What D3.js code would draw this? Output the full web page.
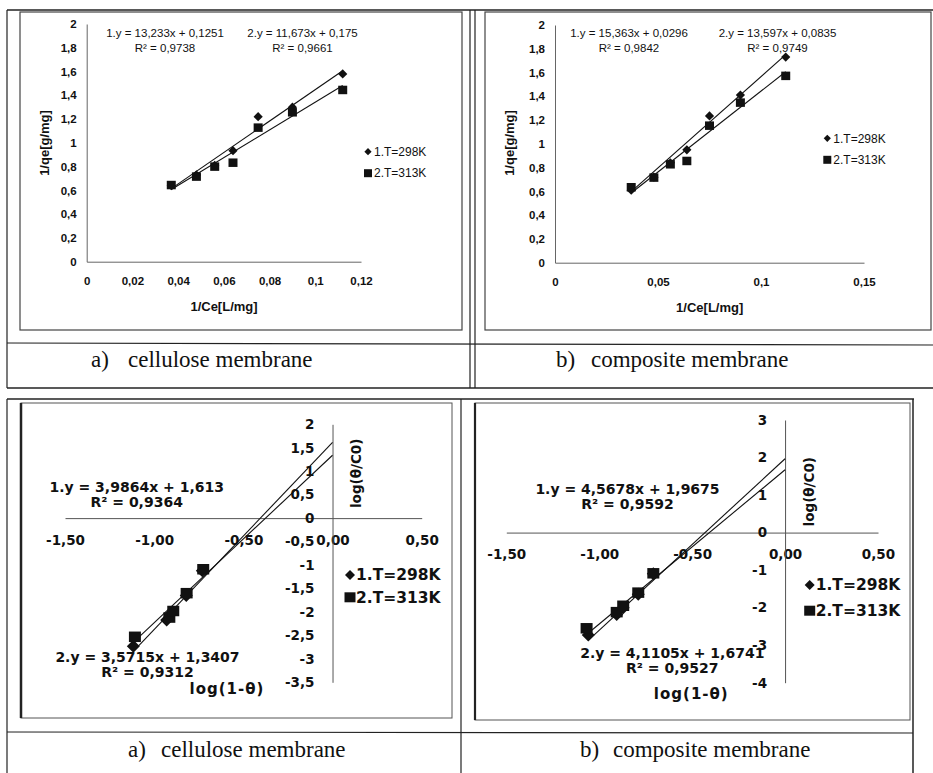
<!DOCTYPE html>
<html>
<head>
<meta charset="utf-8">
<script src="https://cdn.jsdelivr.net/npm/d3@7"></script>
<style>
body{margin:0;background:#fff}
svg text{fill:#111}
</style>
</head>
<body>
<script>
// 1/Ce values shared by both Langmuir plots
var invCe = [0.037, 0.048, 0.056, 0.064, 0.075, 0.090, 0.112]
var cell298 = [0.64, 0.73, 0.81, 0.934, 1.22, 1.30, 1.58]
var cell313 = [0.645, 0.716, 0.80, 0.833, 1.128, 1.257, 1.445]
var comp298 = [0.61, 0.72, 0.84, 0.95, 1.235, 1.41, 1.73]
var comp313 = [0.635, 0.716, 0.828, 0.856, 1.153, 1.347, 1.572]

// log(1-theta) vs log(theta/C0)
var lcell298x = [-1.117, -0.93, -0.90, -0.82, -0.73]
var lcell298y = [-2.73, -2.17, -2.02, -1.65, -1.12]
var lcell313x = [-1.108, -0.915, -0.893, -0.818, -0.725]
var lcell313y = [-2.53, -2.12, -1.98, -1.60, -1.09]
var lcomp298x = [-1.059, -0.906, -0.871, -0.79, -0.709]
var lcomp298y = [-2.73, -2.18, -2.0, -1.64, -1.10]
var lcomp313x = [-1.068, -0.906, -0.871, -0.79, -0.709]
var lcomp313y = [-2.55, -2.12, -1.95, -1.60, -1.085]

// fitted lines [slope, intercept, R2]
var fitCell = [[13.233, 0.1251, "0,9738"], [11.673, 0.175, "0,9661"]]
var fitComp = [[15.363, 0.0296, "0,9842"], [13.597, 0.0835, "0,9749"]]
var fitLCell = [[3.9864, 1.613, "0,9364"], [3.5715, 1.3407, "0,9312"]]
var fitLComp = [[4.5678, 1.9675, "0,9592"], [4.1105, 1.6741, "0,9527"]]

var eqCell = ["1.y = 13,233x + 0,1251", "2.y = 11,673x + 0,175"]
var eqComp = ["1.y = 15,363x + 0,0296", "2.y = 13,597x + 0,0835"]
var eqLCell = ["1.y = 3,9864x + 1,613", "2.y = 3,5715x + 1,3407"]
var eqLComp = ["1.y = 4,5678x + 1,9675", "2.y = 4,1105x + 1,6741"]

var legendNames = ["1.T=298K", "2.T=313K"]
var captions = [["a)", "cellulose membrane"], ["b)", "composite membrane"]]

var yTicksTop = [0, 0.2, 0.4, 0.6, 0.8, 1, 1.2, 1.4, 1.6, 1.8, 2]
var xTicksCell = [0, 0.02, 0.04, 0.06, 0.08, 0.1, 0.12]
var xTicksComp = [0, 0.05, 0.1, 0.15]
var xTicksLog = [-1.5, -1, -0.5, 0, 0.5]
var yTicksLCell = [2, 1.5, 1, 0.5, 0, -0.5, -1, -1.5, -2, -2.5, -3, -3.5]
var yTicksLComp = [3, 2, 1, 0, -1, -2, -3, -4]

var svg = d3.select("body").append("svg").attr("width", 933).attr("height", 773)

function comma(v){ return String(+v.toFixed(3)).replace(".", ",") }
function comma2(v){ return v.toFixed(2).replace(".", ",") }
function diamond(r){ return "M0," + (-r) + "L" + r + ",0L0," + r + "L" + (-r) + ",0Z" }
function square(w, h){ return "M" + (-w/2) + "," + (-h/2) + "h" + w + "v" + h + "h" + (-w) + "Z" }

// ---------- tables / frames ----------
function line(x1, y1, x2, y2, w, col){
    svg.append("line").attr("x1", x1).attr("y1", y1).attr("x2", x2).attr("y2", y2)
      .attr("stroke", col || "#222").attr("stroke-width", w || 1)
}
// top table
line(7, 10, 933, 10, 1.5)
line(7, 10, 7, 388, 1.2)
line(7, 388, 933, 388, 1.5)
line(7, 343, 933, 345, 1.2)
line(470, 10, 470, 388, 1.2)
line(475, 10, 475, 388, 1.2)
svg.append("rect").attr("x", 20).attr("y", 12).attr("width", 442).attr("height", 318)
  .attr("fill", "none").attr("stroke", "#444").attr("stroke-width", 1.2)
svg.append("rect").attr("x", 485).attr("y", 12).attr("width", 446).attr("height", 318)
  .attr("fill", "none").attr("stroke", "#444").attr("stroke-width", 1.2)
// bottom table
line(7, 399, 914, 399, 1.5)
line(7, 399, 7, 773, 1.2)
line(461, 399, 461, 773, 1.2)
line(913, 399, 913, 773, 1.5)
line(7, 732, 913, 733, 1.2)
svg.append("rect").attr("x", 21).attr("y", 403).attr("width", 431).attr("height", 315)
  .attr("fill", "none").attr("stroke", "#555").attr("stroke-width", 1)
line(21, 403, 21, 718, 2.5)
svg.append("rect").attr("x", 475).attr("y", 403).attr("width", 435).attr("height", 317)
  .attr("fill", "none").attr("stroke", "#555").attr("stroke-width", 1)
line(475, 403, 475, 720, 2.2)

// captions
function caption(c, x1, x2, y){
    svg.append("text").attr("x", x1).attr("y", y).text(c[0])
      .style("font-family", "Liberation Serif").style("font-size", "23px")
    svg.append("text").attr("x", x2).attr("y", y).text(c[1])
      .style("font-family", "Liberation Serif").style("font-size", "23px")
}
caption(captions[0], 91, 128, 367)
caption(captions[1], 556, 591, 367)
caption(captions[0], 128, 161, 757)
caption(captions[1], 580, 613, 757)

// ---------- top (Langmuir) panels ----------
function topPanel(p){
    var x = d3.scaleLinear().domain([0, p.xmax]).range(p.xr)
    var y = d3.scaleLinear().domain([0, 2]).range(p.yr)
    var g = svg.append("g")
    var ff = "Liberation Sans"

    var ax = g.append("g").attr("transform", "translate(0," + y(0) + ")")
      .call(d3.axisBottom(x).tickValues(p.xticks).tickSize(0).tickPadding(15).tickFormat(comma))
    var ay = g.append("g").attr("transform", "translate(" + x(0) + ",0)")
      .call(d3.axisLeft(y).tickValues(yTicksTop).tickSize(0).tickPadding(10).tickFormat(comma))
    ;[ax, ay].forEach(function(a){
        a.select(".domain").attr("stroke", "#666").attr("stroke-width", 1)
        a.selectAll("text").style("font-family", ff).style("font-size", "11.5px")
          .style("font-weight", "bold").attr("fill", "#111")
    })

    // trendlines
    p.fits.forEach(function(f){
        var x0 = d3.min(invCe), x1 = d3.max(invCe)
        g.append("line").attr("x1", x(x0)).attr("y1", y(f[0]*x0 + f[1]))
          .attr("x2", x(x1)).attr("y2", y(f[0]*x1 + f[1]))
          .attr("stroke", "#111").attr("stroke-width", 1.1)
    })
    // markers
    g.selectAll(".dia").data(p.s1).enter().append("path")
      .attr("d", diamond(4.6)).attr("fill", "#111")
      .attr("transform", function(d, i){ return "translate(" + x(invCe[i]) + "," + y(d) + ")" })
    g.selectAll(".sq").data(p.s2).enter().append("path")
      .attr("d", square(9, 8.5)).attr("fill", "#111")
      .attr("transform", function(d, i){ return "translate(" + x(invCe[i]) + "," + y(d) + ")" })

    // equations
    p.eq.forEach(function(e, i){
        g.append("text").attr("x", p.eqx[i]).attr("y", 33).attr("dy", "0.35em")
          .attr("text-anchor", "middle").text(e)
          .style("font-family", ff).style("font-size", "11.5px")
        g.append("text").attr("x", p.eqx[i]).attr("y", 48).attr("dy", "0.35em")
          .attr("text-anchor", "middle").text("R² = " + p.fits[i][2])
          .style("font-family", ff).style("font-size", "11.5px")
    })
    // legend
    g.append("path").attr("d", diamond(3.6)).attr("fill", "#111")
      .attr("transform", "translate(" + p.leg[0] + "," + p.leg[1] + ")")
    g.append("path").attr("d", square(8, 8)).attr("fill", "#111")
      .attr("transform", "translate(" + p.leg[0] + "," + (p.leg[1] + 21.5) + ")")
    legendNames.forEach(function(n, i){
        g.append("text").attr("x", p.leg[0] + 6).attr("y", p.leg[1] + i*21.5).attr("dy", "0.35em")
          .text(n).style("font-family", ff).style("font-size", "12px")
    })
    // axis titles
    g.append("text").attr("x", p.xt[0]).attr("y", p.xt[1]).attr("dy", "0.35em")
      .attr("text-anchor", "middle").text("1/Ce[L/mg]")
      .style("font-family", ff).style("font-size", "13px").style("font-weight", "bold")
    g.append("text").attr("transform", "translate(" + p.yt[0] + "," + p.yt[1] + ") rotate(-90)")
      .attr("dy", "0.35em").attr("text-anchor", "middle").text("1/qe[g/mg]")
      .style("font-family", ff).style("font-size", "13px").style("font-weight", "bold")
}

topPanel({xmax: 0.12, xr: [86.7, 361], yr: [261.7, 24], xticks: xTicksCell,
    s1: cell298, s2: cell313, fits: fitCell, eq: eqCell, eqx: [165, 302.5],
    leg: [368, 151.7], xt: [224, 306], yt: [44, 143]})
topPanel({xmax: 0.15, xr: [555, 864], yr: [262.7, 25], xticks: xTicksComp,
    s1: comp298, s2: comp313, fits: fitComp, eq: eqComp, eqx: [629, 777.5],
    leg: [827.3, 138.3], xt: [709.7, 307.7], yt: [509.7, 143]})

// ---------- bottom (log) panels ----------
function logPanel(p){
    var x = d3.scaleLinear().domain([-1.5, 0.5]).range(p.xr)
    var y = d3.scaleLinear().domain(p.yd).range(p.yr)
    var g = svg.append("g")
    var ff = "DejaVu Sans"

    var ax = g.append("g").attr("transform", "translate(0," + y(0) + ")")
      .call(d3.axisBottom(x).tickValues(xTicksLog).tickSize(0).tickPadding(17).tickFormat(comma2))
    var ay = g.append("g").attr("transform", "translate(" + x(0) + ",0)")
      .call(d3.axisLeft(y).tickValues(p.yticks).tickSize(0).tickPadding(18).tickFormat(comma))
    ;[ax, ay].forEach(function(a){
        a.select(".domain").attr("stroke", "#555").attr("stroke-width", 1)
        a.selectAll("text").style("font-family", ff).style("font-size", "13.5px")
          .style("font-weight", "bold").attr("fill", "#111")
    })

    // trendlines, forward to x = 0
    p.fits.forEach(function(f, i){
        var x0 = d3.min(p.xs[i])
        g.append("line").attr("x1", x(x0)).attr("y1", y(f[0]*x0 + f[1]))
          .attr("x2", x(0)).attr("y2", y(f[1]))
          .attr("stroke", "#111").attr("stroke-width", 1.1)
    })
    g.selectAll(".dia").data(p.ys[0]).enter().append("path")
      .attr("d", diamond(6.5)).attr("fill", "#111")
      .attr("transform", function(d, i){ return "translate(" + x(p.xs[0][i]) + "," + y(d) + ")" })
    g.selectAll(".sq").data(p.ys[1]).enter().append("path")
      .attr("d", square(12, 10.5)).attr("fill", "#111")
      .attr("transform", function(d, i){ return "translate(" + x(p.xs[1][i]) + "," + y(d) + ")" })

    // equations
    p.eq.forEach(function(e, i){
        g.append("text").attr("x", p.eqpos[i][0]).attr("y", p.eqpos[i][1]).attr("dy", "0.35em")
          .attr("text-anchor", "middle").text(e)
          .style("font-family", ff).style("font-size", "14px").style("font-weight", "bold")
        g.append("text").attr("x", p.eqpos[i][0]).attr("y", p.eqpos[i][1] + 15).attr("dy", "0.35em")
          .attr("text-anchor", "middle").text("R² = " + p.fits[i][2])
          .style("font-family", ff).style("font-size", "14px").style("font-weight", "bold")
    })
    // legend
    g.append("path").attr("d", diamond(5)).attr("fill", "#111")
      .attr("transform", "translate(" + p.leg[0] + "," + p.leg[1] + ")")
    g.append("path").attr("d", square(11, 10)).attr("fill", "#111")
      .attr("transform", "translate(" + p.leg[0] + "," + (p.leg[1] + p.legGap) + ")")
    legendNames.forEach(function(n, i){
        g.append("text").attr("x", p.leg[0] + 6).attr("y", p.leg[1] + i*p.legGap).attr("dy", "0.35em")
          .text(n).style("font-family", ff).style("font-size", "15.5px").style("font-weight", "bold")
    })
    // axis titles
    g.append("text").attr("x", p.xt[0]).attr("y", p.xt[1]).attr("dy", "0.35em")
      .attr("text-anchor", "middle").text("log(1-θ)")
      .style("font-family", ff).style("font-size", "15px").style("font-weight", "bold")
      .style("letter-spacing", "1px")
    g.append("text").attr("transform", "translate(" + p.yt[0] + "," + p.yt[1] + ") rotate(-90)")
      .attr("dy", "0.35em").attr("text-anchor", "middle").text("log(θ/C0)")
      .style("font-family", ff).style("font-size", "13.5px").style("font-weight", "bold")
}

logPanel({xr: [65, 421.7], yd: [-3.5, 2], yr: [682.3, 424.3], yticks: yTicksLCell,
    xs: [lcell298x, lcell313x], ys: [lcell298y, lcell313y], fits: fitLCell, eq: eqLCell,
    eqpos: [[136.7, 486.7], [147.5, 656.7]], leg: [350, 575], legGap: 22.3,
    xt: [227, 688.3], yt: [356.7, 473.3]})
logPanel({xr: [506.3, 878], yd: [-4, 3], yr: [682.7, 420], yticks: yTicksLComp,
    xs: [lcomp298x, lcomp313x], ys: [lcomp298y, lcomp313y], fits: fitLComp, eq: eqLComp,
    eqpos: [[627.5, 489], [672.3, 653.3]], leg: [809.7, 585], legGap: 25.7,
    xt: [691.3, 693.3], yt: [809.7, 491.7]})
</script>
</body>
</html>
